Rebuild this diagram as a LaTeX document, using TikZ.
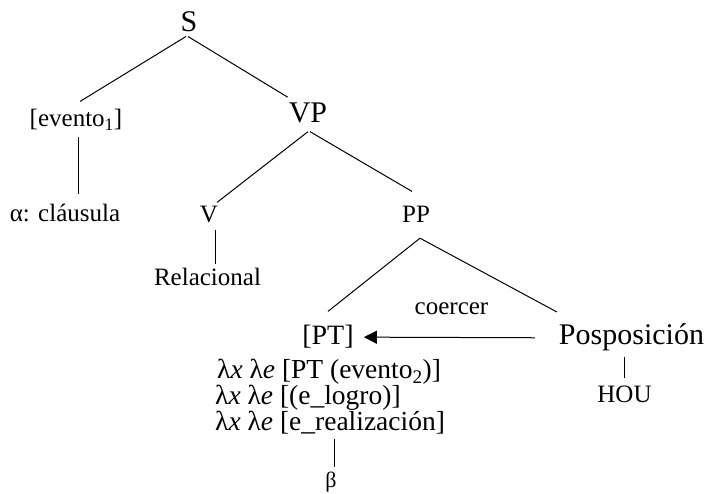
\documentclass[tikz,border=0pt]{standalone}
\usepackage{fontspec}
\setmainfont{Liberation Serif}
\usetikzlibrary{arrows.meta}

\tikzset{
  big/.style={anchor=base, inner sep=4pt, font=\fontsize{30}{30}\selectfont},
  mid/.style={anchor=base, inner sep=4pt, font=\fontsize{28}{28}\selectfont},
  lab/.style={anchor=base, inner sep=4pt, font=\fontsize{25}{25}\selectfont},
  lam/.style={anchor=base west, inner sep=0pt, text height=17pt, text depth=5pt,
    font=\fontsize{27.5}{27.5}\selectfont},
  tiny/.style={anchor=base, inner sep=4pt, font=\fontsize{22}{22}\selectfont},
  branch/.style={line width=1pt}
}

\begin{document}
\begin{tikzpicture}[x=1pt,y=1pt]
  \useasboundingbox (0,0) rectangle (707,493);

  % top of the tree
  \node[big] (S) at (189,461) {S};
  \node[lab] (ev) at (76,366) {[evento\textsubscript{1}]};
  \node[big] (VP) at (308,370) {VP};
  \node[lab] (alpha) at (65,271) {α: cláusula};
  % verb side
  \node[lab] (V) at (209,270) {V};
  \node[lab] (rel) at (207.5,207) {Relacional};
  \node[lab] (PP) at (416,270) {PP};
  % the postposition coerces its complement
  \node[mid] (PT) at (328,148) {[PT]};
  \node[big] (pos) at (631.5,148) {Posposición};
  \node[lab] (coercer) at (451.5,178) {coercer};
  \node[lab] (hou) at (624.5,90) {HOU};
  % types of the complement
  \node[lam] (lamA) at (217,114) {λ\textit{x} λ\textit{e} [PT (evento\textsubscript{2})]};
  \node[lam] (lamB) at (215,88.5) {λ\textit{x} λ\textit{e} [(e\_logro)]};
  \node[lam] (lamC) at (215,63) {λ\textit{x} λ\textit{e} [e\_realización]};
  \node[tiny] (beta) at (331,6) {β};

  % branches
  \draw[branch] ([xshift=-3pt]S.south) -- ([xshift=4pt,yshift=4pt]ev.north);
  \draw[branch] ([xshift=-1pt]S.south) -- ([xshift=3pt,yshift=2pt]VP.north west);
  \draw[branch] ([xshift=2pt,yshift=-2pt]ev.south) -- ([xshift=2pt,yshift=6pt]ev.south |- alpha.north);
  \draw[branch] ([yshift=-4pt]VP.south) -- ([xshift=8pt]V.north);
  \draw[branch] ([xshift=2pt,yshift=-4pt]VP.south) -- ([xshift=-4pt,yshift=11pt]PP.north);
  \draw[branch] ([xshift=6pt,yshift=-2pt]V.south) -- ([xshift=6pt]V.south |- rel.north);
  \draw[branch] ([xshift=4pt,yshift=-11pt]PP.south) -- ([yshift=10pt]PT.north);
  \draw[branch] ([xshift=4pt,yshift=-11pt]PP.south) -- ([xshift=2pt,yshift=8pt]pos.north west);
  \draw[branch] ([yshift=-1pt]hou.north |- pos.south) -- ([yshift=4pt]hou.north);
  \draw[branch] ([xshift=3pt,yshift=-4pt]beta.north |- lamC.south) -- ([xshift=3pt]beta.north);
  % coercion arrow
  \draw[branch, -{Triangle[length=13pt,width=13pt]}] ([xshift=-20pt]pos.west) -- ([xshift=6pt]PT.east);
\end{tikzpicture}
\end{document}
